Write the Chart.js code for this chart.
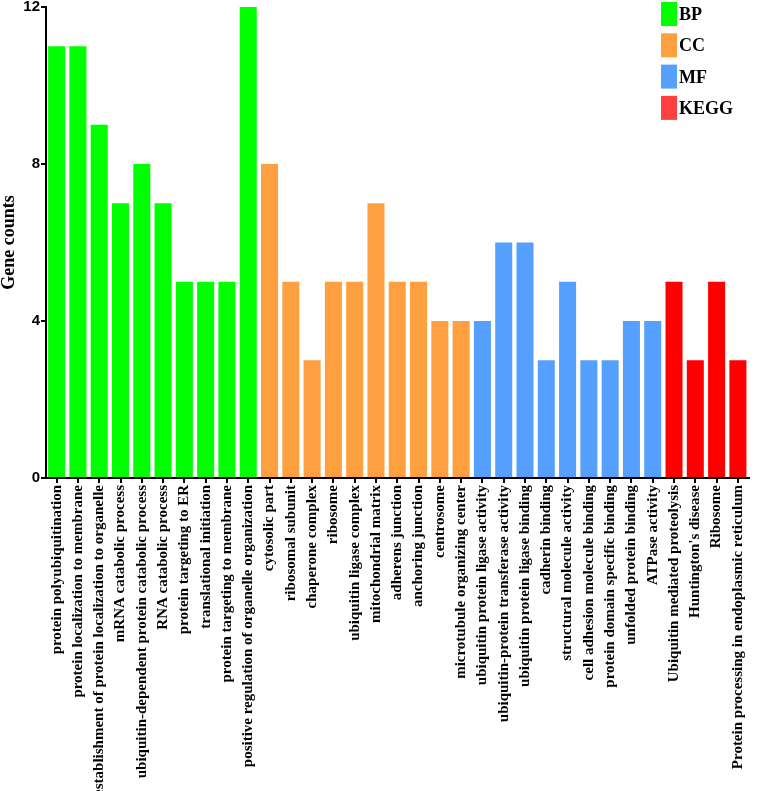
<!DOCTYPE html>
<html>
<head>
<meta charset="utf-8">
<script src="https://cdn.jsdelivr.net/npm/chart.js@4.4.1/dist/chart.umd.min.js"></script>
<style>
  html, body { margin: 0; padding: 0; background: #fff; }
</style>
</head>
<body>
<canvas id="goChart" width="758" height="791"></canvas>
<script>
// GO / KEGG terms
const terms = [
  'protein polyubiquitination',
  'protein localization to membrane',
  'establishment of protein localization to organelle',
  'mRNA catabolic process',
  'ubiquitin-dependent protein catabolic process',
  'RNA catabolic process',
  'protein targeting to ER',
  'translational initiation',
  'protein targeting to membrane',
  'positive regulation of organelle organization',
  'cytosolic part',
  'ribosomal subunit',
  'chaperone complex',
  'ribosome',
  'ubiquitin ligase complex',
  'mitochondrial matrix',
  'adherens junction',
  'anchoring junction',
  'centrosome',
  'microtubule organizing center',
  'ubiquitin protein ligase activity',
  'ubiquitin-protein transferase activity',
  'ubiquitin protein ligase binding',
  'cadherin binding',
  'structural molecule activity',
  'cell adhesion molecule binding',
  'protein domain specific binding',
  'unfolded protein binding',
  'ATPase activity',
  'Ubiquitin mediated proteolysis',
  "Huntington's disease",
  'Ribosome',
  'Protein processing in endoplasmic reticulum'
];

const geneCounts = [
  11, 11, 9, 7, 8, 7, 5, 5, 5, 12,
  8, 5, 3, 5, 5, 7, 5, 5, 4, 4,
  4, 6, 6, 3, 5, 3, 3, 4, 4,
  5, 3, 5, 3
];

const termGroups = [
  'BP', 'BP', 'BP', 'BP', 'BP', 'BP', 'BP', 'BP', 'BP', 'BP',
  'CC', 'CC', 'CC', 'CC', 'CC', 'CC', 'CC', 'CC', 'CC', 'CC',
  'MF', 'MF', 'MF', 'MF', 'MF', 'MF', 'MF', 'MF', 'MF',
  'KEGG', 'KEGG', 'KEGG', 'KEGG'
];

const groupNames = ['BP', 'CC', 'MF', 'KEGG'];
const yTicks = [0, 4, 8, 12];

const groupColors = {
  BP: '#00ff00',
  CC: '#ffa040',
  MF: '#55a0ff',
  KEGG: '#ff0000'
};
const legendColors = {
  BP: '#00ff00',
  CC: '#ffa040',
  MF: '#55a0ff',
  KEGG: '#ff4040'
};

// legend drawn in the top right corner, over the plot
const groupLegend = {
  id: 'groupLegend',
  afterDraw(chart) {
    const ctx = chart.ctx;
    ctx.save();
    ctx.font = 'bold 18px "Liberation Serif", "Times New Roman", serif';
    ctx.textBaseline = 'alphabetic';
    groupNames.forEach((g, i) => {
      const y = 2 + i * 31.3;
      ctx.fillStyle = legendColors[g];
      ctx.fillRect(661, y, 16, 24);
      ctx.fillStyle = '#000';
      ctx.fillText(g, 679, y + 18);
    });
    ctx.restore();
  }
};

const serif = '"Liberation Serif", "Times New Roman", serif';
const sans = '"Liberation Sans", Arial, sans-serif';

new Chart(document.getElementById('goChart'), {
  type: 'bar',
  data: {
    labels: terms,
    datasets: [{
      data: geneCounts,
      backgroundColor: termGroups.map(g => groupColors[g]),
      borderWidth: 0,
      barPercentage: 0.8,
      categoryPercentage: 1
    }]
  },
  options: {
    responsive: false,
    animation: false,
    layout: { padding: { top: 0, right: 7, bottom: 0, left: 0 } },
    plugins: {
      legend: { display: false },
      tooltip: { enabled: false }
    },
    scales: {
      x: {
        afterFit: s => { s.height = 313; },
        border: { color: '#000', width: 2 },
        grid: {
          display: true,
          drawOnChartArea: false,
          drawTicks: true,
          tickLength: 5,
          color: '#000',
          lineWidth: 2,
          offset: false
        },
        ticks: {
          autoSkip: false,
          maxRotation: 90,
          minRotation: 90,
          padding: 2,
          color: '#000',
          font: { family: serif, size: 15, weight: 'bold' }
        }
      },
      y: {
        min: 0,
        max: 12,
        afterFit: s => { s.width = 46; s.paddingTop = 7; },
        afterBuildTicks: s => { s.ticks = yTicks.map(v => ({ value: v })); },
        border: { color: '#000', width: 2 },
        grid: {
          display: true,
          drawOnChartArea: false,
          drawTicks: true,
          tickLength: 5,
          color: '#000',
          lineWidth: 2
        },
        ticks: {
          padding: 1,
          color: '#000',
          font: { family: sans, size: 15, weight: 'bold' }
        },
        title: {
          display: true,
          text: 'Gene counts',
          color: '#000',
          padding: { top: 0, bottom: 0 },
          font: { family: serif, size: 18, weight: 'bold', lineHeight: 1 }
        }
      }
    }
  },
  plugins: [groupLegend]
});
</script>
</body>
</html>
